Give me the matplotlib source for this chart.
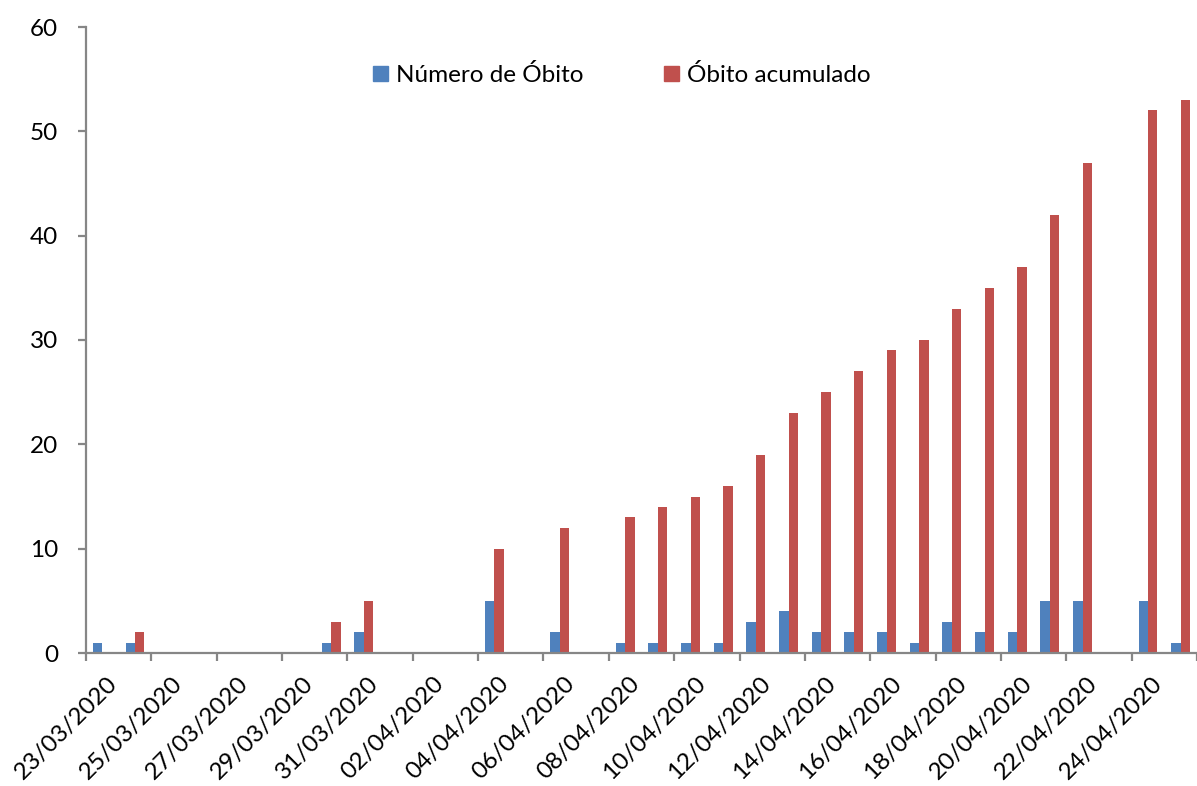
import numpy as np
import matplotlib.pyplot as plt
from matplotlib.patches import Patch
from matplotlib.transforms import ScaledTranslation

plt.rcParams['font.family'] = ['Lato', 'DejaVu Sans']

# dates 23/03/2020 .. 25/04/2020 (one category per day)
dias = ["23/03/2020", "24/03/2020", "25/03/2020", "26/03/2020", "27/03/2020",
        "28/03/2020", "29/03/2020", "30/03/2020", "31/03/2020", "01/04/2020",
        "02/04/2020", "03/04/2020", "04/04/2020", "05/04/2020", "06/04/2020",
        "07/04/2020", "08/04/2020", "09/04/2020", "10/04/2020", "11/04/2020",
        "12/04/2020", "13/04/2020", "14/04/2020", "15/04/2020", "16/04/2020",
        "17/04/2020", "18/04/2020", "19/04/2020", "20/04/2020", "21/04/2020",
        "22/04/2020", "23/04/2020", "24/04/2020", "25/04/2020"]

obitos = [1, 1, 0, 0, 0, 0, 0, 1, 2, 0, 0, 0, 5, 0, 2, 0, 1, 1, 1, 1,
          3, 4, 2, 2, 2, 1, 3, 2, 2, 5, 5, 0, 5, 1]
acumulado = [0, 2, 0, 0, 0, 0, 0, 3, 5, 0, 0, 0, 10, 0, 12, 0, 13, 14, 15, 16,
             19, 23, 25, 27, 29, 30, 33, 35, 37, 42, 47, 0, 52, 53]

azul = "#4F81BD"
vermelho = "#C0504D"
cinza = "#868686"

fig = plt.figure(figsize=(11.97, 7.86), dpi=100)
ax = fig.add_axes([86/1197, 133/786, 1 - 86/1197, 626/786])

x = np.arange(len(dias))
w = 0.29
ax.bar(x - w/2, obitos, width=w, color=azul, label="Número de Óbito")
ax.bar(x + w/2, acumulado, width=w, color=vermelho, label="Óbito acumulado")

ax.set_xlim(-0.5, 33.17)
ax.set_ylim(0, 60)
ax.set_yticks(range(0, 61, 10))

for s in ["top", "right"]:
    ax.spines[s].set_visible(False)
for s in ["left", "bottom"]:
    ax.spines[s].set_color(cinza)
    ax.spines[s].set_linewidth(1.6)

ax.tick_params(axis="y", colors=cinza, width=1.6, length=6, pad=14,
               labelcolor="black", labelsize=17.5)

# labels every 2 days at category centres, tick marks at boundaries
ax.set_xticks(x[::2])
ax.set_xticklabels(dias[::2], rotation=45, ha="right", va="top",
                   rotation_mode="anchor", fontsize=17.5)
ax.tick_params(axis="x", length=0, pad=14)
shift = ScaledTranslation(4/100, 0, fig.dpi_scale_trans)
for lbl in ax.get_xticklabels():
    lbl.set_transform(lbl.get_transform() + shift)
ax.set_xticks(np.arange(-0.5, 34, 2), minor=True)
ax.tick_params(axis="x", which="minor", colors=cinza, width=1.6, length=6)

handles = [Patch(color=azul), Patch(color=vermelho)]
ax.legend(handles, ["Número de Óbito", "Óbito acumulado"], ncol=2,
          loc="center", bbox_to_anchor=(0.4825, 0.923), frameon=False,
          fontsize=17.5, handlelength=0.6, handleheight=0.6,
          handletextpad=0.35, columnspacing=3.3)

fig.savefig("out.png", dpi=100)
